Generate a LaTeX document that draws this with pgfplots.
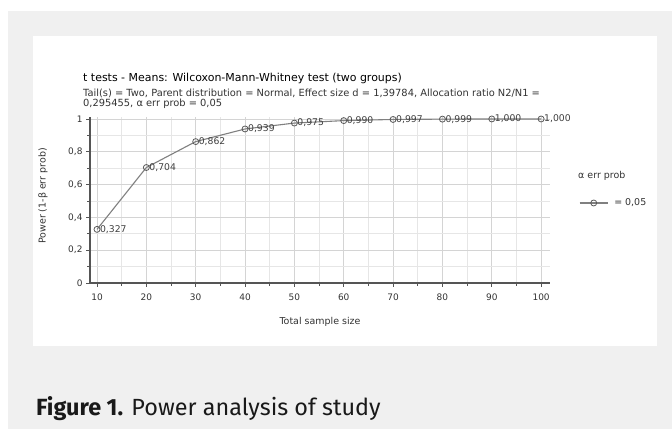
\documentclass[border=0pt]{standalone}
\usepackage{fontspec}
\setmainfont{DejaVu Sans}
\newfontfamily\capfont{Fira Sans}
\usepackage{pgfplots}
\pgfplotsset{compat=1.18}
\usepackage{pgfplotstable}
\definecolor{bggray}{HTML}{F0F0F0}
\definecolor{axgray}{HTML}{555555}
\definecolor{linegray}{HTML}{808080}
\definecolor{markgray}{HTML}{5A5A5A}
\definecolor{gridmaj}{HTML}{D4D4D4}
\definecolor{gridmin}{HTML}{E6E6E6}
\definecolor{txtgray}{HTML}{333333}

\pgfplotstableread{
n p lab
10 0.327 0,327
20 0.704 0,704
30 0.862 0,862
40 0.939 0,939
50 0.975 0,975
60 0.990 0,990
70 0.997 0,997
80 0.999 0,999
90 1.000 1,000
100 1.000 1,000
}\powertable

\begin{document}
\begin{tikzpicture}
\fill[white] (0bp,0bp) rectangle (672bp,429bp);
\fill[bggray] (8bp,0bp) rectangle (672bp,418bp);
\fill[white] (33bp,83bp) rectangle (657bp,393bp);

\node[anchor=west, inner sep=0pt, text=black, font=\fontsize{11}{13}\selectfont] at (83bp,351bp)
  {t tests - Means: Wilcoxon-Mann-Whitney test (two groups)};
\node[anchor=west, inner sep=0pt, text=txtgray, font=\fontsize{9.9}{12}\selectfont] at (83bp,336bp)
  {Tail(s) = Two, Parent distribution = Normal, Effect size d = 1,39784, Allocation ratio N2/N1 =};
\node[anchor=west, inner sep=0pt, text=txtgray, font=\fontsize{9.9}{12}\selectfont] at (83bp,325bp)
  {0,295455, α err prob = 0,05};

\begin{axis}[
  at={(90bp,146bp)}, anchor=south west,
  scale only axis, width=460bp, height=166bp,
  xmin=8.58, xmax=101.8, ymin=0, ymax=1.012,
  axis lines=left,
  axis line style={-, draw=axgray, line width=1.2bp},
  tick align=outside,
  major tick length=4bp, minor tick length=3bp,
  every tick/.style={draw=axgray, line width=0.8bp},
  xtick={10,20,...,100},
  ytick={0,0.2,0.4,0.6,0.8,1},
  minor x tick num=1, minor y tick num=1,
  grid=both,
  major grid style={draw=gridmaj, line width=0.6bp},
  minor grid style={draw=gridmin, line width=0.6bp},
  /pgf/number format/assume math mode=true,
  /pgf/number format/use comma,
  tick label style={font=\fontsize{9}{11}\selectfont, text=txtgray},
  xticklabel style={yshift=-3bp},
  xlabel={Total sample size},
  ylabel={Power (1-β err prob)},
  label style={font=\fontsize{9.5}{11}\selectfont, text=txtgray},
  xlabel style={at={(axis description cs:0.5,-0.235)}, anchor=center},
  ylabel style={at={(axis description cs:-0.102,0.524)}, anchor=center},
  clip=false,
  legend style={at={(axis description cs:1.063,0.482)}, anchor=west,
    draw=none, fill=none, inner sep=0pt,
    font=\fontsize{9.5}{11}\selectfont, text=txtgray,
    nodes={inner sep=2bp}},
  legend image code/.code={\draw[mark repeat=2,mark phase=2,#1] plot coordinates {(0bp,0bp) (14bp,0bp) (28bp,0bp)};},
]
\addplot[draw=linegray, line width=1.1bp, mark=o, mark size=3bp,
  mark options={draw=markgray, line width=0.8bp},
  point meta=explicit symbolic,
  nodes near coords,
  every node near coord/.append style={anchor=west, xshift=1.2bp, yshift=0bp, inner sep=1.5bp,
     font=\fontsize{9.3}{11}\selectfont, text=black!75}]
  table[x=n, y=p, meta=lab] {\powertable};
\addlegendentry{\hspace{4bp}= 0,05}
\end{axis}

\node[anchor=west, inner sep=0pt, text=txtgray, font=\fontsize{9.5}{11}\selectfont] at (578bp,253bp) {α err prob};

\node[anchor=base west, inner sep=0pt, text=black!90, font=\capfont\fontsize{23.5}{28}\selectfont] at (36bp,14bp)
  {\textbf{Figure 1.} Power analysis of study};
\end{tikzpicture}
\end{document}
